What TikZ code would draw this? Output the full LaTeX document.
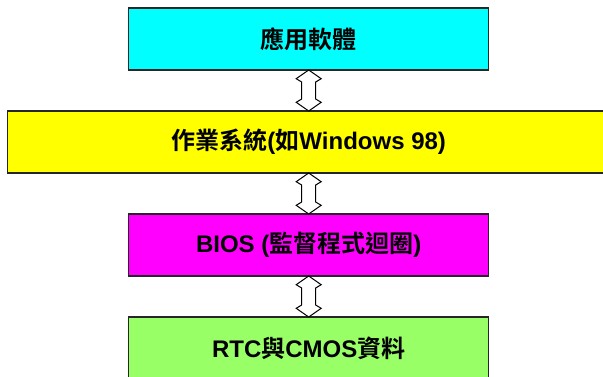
\documentclass[tikz,border=0pt]{standalone}
\usepackage{fontspec}
\setmainfont{Liberation Sans}
\newfontfamily\cjk{Noto Sans CJK TC}[BoldFont={Noto Sans CJK TC Bold}]
\usetikzlibrary{positioning,calc}
\definecolor{appcyan}{RGB}{0,255,255}
\definecolor{osyellow}{RGB}{255,255,0}
\definecolor{biosmagenta}{RGB}{255,0,255}
\definecolor{cmosgreen}{RGB}{153,255,102}
\newcommand\zh[1]{{\cjk #1}}
% hollow two-way arrow between two boxes
\newcommand\updown[2]{%
  \draw[line width=1pt,fill=white] (#1.south) -- ++(-12.5,8.7) -- ++(5.5,3.3)
    -- ($(#2.north)+(-7,-12)$) -- ($(#2.north)+(-12.5,-8.7)$) -- (#2.north)
    -- ($(#2.north)+(12.5,-8.7)$) -- ($(#2.north)+(7,-12)$)
    -- ($(#1.south)+(7,12)$) -- ($(#1.south)+(12.5,8.7)$) -- cycle;}

\begin{document}
\begin{tikzpicture}[x=1pt,y=-1pt,
    layer/.style={draw=black!85,line width=1.2pt,minimum width=360pt,minimum height=62pt,
      inner sep=0pt,outer sep=0pt,font=\bfseries\fontsize{24}{28}\selectfont},
    node distance=41pt]
    \useasboundingbox (0,0) rectangle (603,376);
    \node[layer,fill=appcyan] (app) at (308.7,39) {\zh{應用軟體}};
    \node[layer,fill=osyellow,minimum width=602pt,below=of app] (os) {\zh{作業系統}(\zh{如}Windows 98)};
    \node[layer,fill=biosmagenta,below=of os] (bios) {BIOS (\zh{監督程式迴圈})};
    \node[layer,fill=cmosgreen,below=of bios] (cmos) {RTC\zh{與}CMOS\zh{資料}};
    \updown{app}{os}
    \updown{os}{bios}
    \updown{bios}{cmos}
\end{tikzpicture}
\end{document}
